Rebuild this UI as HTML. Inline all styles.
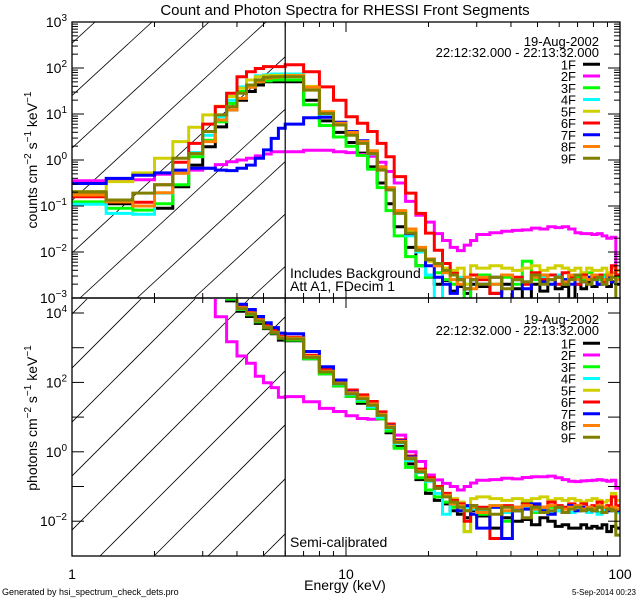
<!DOCTYPE html>
<html><head><meta charset="utf-8"><style>
html,body{margin:0;padding:0;background:#fff;}
svg{display:block;font-family:"Liberation Sans",sans-serif;}
</style></head><body>
<svg id="chart" width="640" height="600" viewBox="0 0 640 600" xmlns="http://www.w3.org/2000/svg">
<rect x="0" y="0" width="640" height="600" fill="#fff"/>
<defs>
<clipPath id="clipTop"><rect x="72" y="22" width="548" height="276"/></clipPath>
<clipPath id="clipBot"><rect x="72" y="299" width="548" height="257"/></clipPath>
<clipPath id="hatchTop"><rect x="72" y="22" width="213" height="276"/></clipPath>
<clipPath id="hatchBot"><rect x="72" y="299" width="213" height="257"/></clipPath>
</defs>
<g id="layer"></g>
</svg>
<script>
const energyEdges = [1,1.333,1.667,2,2.333,2.667,3,3.333,3.667,4,4.333,4.667,5,5.333,5.667,6,7,8,9,10,11,12,13,14,15,16.5,18,19.5,21,22.5,24,25.5,27,28.5,30,33.5,37,40.5,44,47.5,51,54.5,58,61.5,65,68.5,72,75.5,79,82.5,86,89.5,93,96.5,100];
const seriesNames = ["1F","2F","3F","4F","5F","6F","7F","8F","9F"];
const seriesColors = ["#000000","#ff00ff","#00ff00","#00ffff","#d0d000","#ff0000","#0000ff","#ff8000","#808000"];

// log10 counts cm^-2 s^-1 keV^-1 (top panel)
const counts1F = [-0.73,-0.95,-1.0,-1.05,-0.58,-0.11,0.29,0.72,1.09,1.30,1.49,1.63,1.70,1.70,1.70, 1.70,1.30,0.85,0.60,0.38,0.15,-0.15,-0.50,-0.95, -1.45,-1.90,-2.30,-2.55,-2.70,-2.62,-2.85,-2.75,-2.9,-2.7, -2.75,-2.9,-2.7,-2.8,-3.1,-2.7,-2.85,-2.6,-2.8,-2.75,-3.1,-2.7,-2.8,-2.65,-2.75,-2.7,-2.6,-2.75,-2.65,-2.7];
const counts2F = [-0.45,-0.45,-0.43,-0.31,-0.25,-0.22,-0.18,-0.1,-0.04,0.0,0.04,0.09,0.13,0.18,0.18, 0.18,0.21,0.21,0.18,0.16,0.12,0.08,-0.05,-0.25, -0.5,-0.9,-1.2,-1.35,-1.6,-1.75,-1.9,-1.97,-1.85,-1.75, -1.62,-1.58,-1.55,-1.53,-1.52,-1.48,-1.5,-1.45,-1.47,-1.45,-1.5,-1.58,-1.6,-1.6,-1.62,-1.6,-1.65,-1.7,-1.68,-2.4];
const counts3F = [-0.91,-1.05,-1.09,-0.95,-0.54,0.07,0.43,0.83,1.23,1.49,1.63,1.70,1.72,1.74,1.74, 1.74,1.20,0.75,0.50,0.30,0.10,-0.20,-0.60,-1.10, -1.65,-2.10,-2.30,-2.55,-2.45,-2.6,-2.7,-2.6,-3.2,-2.6, -2.5,-2.7,-2.55,-2.7,-2.2,-2.6,-2.55,-2.6,-2.5,-2.7,-2.6,-2.55,-2.6,-2.45,-2.55,-2.6,-2.5,-2.6,-2.45,-2.55];
const counts4F = [-0.96,-1.16,-1.18,-0.72,-0.29,0.16,0.54,0.94,1.30,1.59,1.74,1.83,1.85,1.87,1.87, 1.87,1.55,1.00,0.78,0.56,0.37,0.13,-0.20,-0.65, -1.15,-1.65,-2.00,-2.5,-3.2,-2.4,-2.6,-2.55,-2.7,-2.6, -2.55,-2.7,-2.5,-2.6,-2.65,-2.5,-2.55,-2.7,-2.5,-2.6,-2.55,-2.6,-2.5,-2.55,-2.6,-2.5,-2.55,-2.6,-2.55,-2.6];
const counts5F = [-0.69,-0.47,-0.28,0.04,0.40,0.71,0.98,1.17,1.38,1.56,1.74,1.81,1.83,1.84,1.84, 1.84,1.60,1.05,0.82,0.58,0.38,0.16,-0.18,-0.62, -1.12,-1.55,-1.95,-2.2,-2.3,-2.35,-2.4,-2.35,-2.7,-2.3, -2.35,-2.3,-2.35,-2.4,-2.35,-2.3,-2.4,-2.35,-2.3,-2.35,-2.4,-2.35,-2.45,-2.35,-2.4,-2.4,-2.35,-2.45,-2.35,-2.4];
const counts6F = [-0.80,-0.91,-0.92,-0.54,-0.05,0.36,0.78,1.16,1.45,1.81,1.92,1.99,2.03,2.03,2.03, 2.07,1.92,1.59,1.30,0.94,0.80,0.62,0.36,0.07, -0.36,-0.72,-1.16,-1.59,-1.96,-2.25,-2.46,-2.6,-2.8,-2.5, -2.6,-2.9,-2.5,-2.55,-2.7,-2.45,-2.6,-2.5,-2.7,-2.45,-2.55,-2.7,-2.5,-2.6,-2.55,-2.5,-2.65,-2.55,-2.3,-2.5];
const counts7F = [-0.51,-0.40,-0.33,-0.28,-0.22,-0.18,-0.18,-0.22,-0.23,-0.18,-0.11,0.04,0.22,0.47,0.69, 0.78,0.92,0.93,0.82,0.62,0.42,0.18,-0.15,-0.62, -1.15,-1.60,-1.95,-2.3,-2.55,-2.7,-2.9,-2.6,-2.8,-2.6, -2.7,-2.55,-3.1,-2.6,-2.8,-2.5,-2.65,-2.7,-2.55,-2.6,-2.7,-2.6,-2.65,-2.55,-2.6,-2.7,-2.6,-2.55,-2.65,-2.6];
const counts8F = [-0.76,-0.91,-1.0,-0.71,-0.29,0.14,0.40,0.87,1.09,1.34,1.58,1.70,1.78,1.80,1.81, 1.83,1.58,1.05,0.80,0.60,0.40,0.20,-0.15,-0.60, -1.10,-1.50,-1.90,-2.15,-2.3,-2.45,-2.6,-2.7,-2.55,-2.8, -2.55,-2.7,-2.5,-2.6,-2.65,-2.55,-2.5,-2.6,-2.55,-2.65,-2.5,-2.6,-2.55,-2.6,-2.5,-2.55,-2.6,-2.5,-2.55,-2.6];
const counts9F = [-0.69,-0.87,-0.72,-0.54,0.04,0.14,0.62,0.98,1.16,1.45,1.63,1.74,1.80,1.81,1.81, 1.81,1.52,1.01,0.76,0.54,0.36,0.14,-0.22,-0.65, -1.16,-1.59,-1.96,-2.17,-2.25,-2.4,-2.5,-2.6,-2.8,-2.6, -2.7,-2.55,-2.8,-2.6,-2.65,-2.5,-2.7,-2.6,-2.55,-2.7,-2.6,-2.5,-2.65,-2.7,-2.6,-2.55,-2.7,-2.6,-2.55,-3.2];

// log10 photons cm^-2 s^-1 keV^-1 (bottom panel)
const photons1F = [6,6,6,6,6,6,6,6,4.35, 4.05,3.9,3.7,3.55,3.4,3.22, 3.2,2.68,2.25,1.9,1.6,1.4,1.25,0.95,0.55, 0.15,-0.35,-0.8,-1.2,-1.4,-1.5,-1.7,-1.8,-1.9,-1.7, -1.85,-2.2,-1.9,-2.0,-1.95,-2.1,-1.9,-2.0,-2.15,-2.1,-2.2,-2.2,-2.1,-2.2,-2.15,-2.2,-2.1,-2.3,-2.15,-2.2];
const photons2F = [6,6,6,6,6,6,6,3.89,3.17, 2.76,2.55,2.18,1.99,1.85,1.57, 1.59,1.44,1.25,1.16,1.04,0.96,0.94,0.96,0.77, 0.48,0.0,-0.28,-0.67,-0.81,-0.91,-1.0,-1.1,-1.0,-0.9, -0.82,-0.8,-0.76,-0.78,-0.74,-0.72,-0.72,-0.7,-0.75,-0.8,-0.85,-0.86,-0.84,-0.83,-0.82,-0.8,-0.82,-0.85,-0.82,-1.05];
const photons3F = [6,6,6,6,6,6,6,6,4.4, 4.1,3.95,3.75,3.57,3.42,3.27, 3.22,2.68,2.25,1.9,1.6,1.45,1.25,0.95,0.6, 0.1,-0.45,-0.75,-1.1,-1.3,-1.45,-1.6,-1.7,-2.3,-1.55, -1.8,-1.55,-2.0,-1.7,-1.45,-1.75,-1.7,-1.6,-1.7,-1.75,-1.6,-1.7,-1.65,-1.7,-1.6,-1.75,-1.7,-1.6,-1.65,-1.7];
const photons4F = [6,6,6,6,6,6,6,6,4.45, 4.12,3.98,3.78,3.6,3.45,3.3, 3.25,2.72,2.3,1.95,1.65,1.5,1.3,1.0,0.68, 0.25,-0.25,-0.6,-0.85,-1.2,-1.8,-1.5,-1.55,-1.6,-1.65, -1.7,-1.6,-1.75,-1.65,-1.6,-1.7,-1.65,-1.75,-1.7,-1.6,-1.75,-1.7,-1.7,-1.75,-1.65,-1.8,-1.7,-1.65,-1.7,-1.75];
const photons5F = [6,6,6,6,6,6,6,6,4.45, 4.15,4.0,3.8,3.6,3.45,3.3, 3.28,2.76,2.33,1.98,1.7,1.55,1.37,1.08,0.72, 0.3,-0.2,-0.55,-0.8,-1.0,-1.2,-1.35,-1.45,-2.3,-1.35, -1.3,-1.35,-1.4,-1.35,-1.4,-1.35,-1.3,-1.4,-1.35,-1.4,-1.35,-1.4,-1.45,-1.4,-1.35,-1.4,-1.45,-1.4,-1.2,-1.4];
const photons6F = [6,6,6,6,6,6,6,6,4.5, 4.2,4.05,3.85,3.65,3.5,3.33, 3.3,2.78,2.38,2.05,1.78,1.64,1.45,1.15,0.8, 0.35,-0.12,-0.5,-0.75,-1.0,-1.2,-1.4,-1.5,-2.0,-1.55, -1.6,-2.5,-1.55,-1.6,-1.5,-1.55,-1.6,-1.45,-1.55,-1.6,-1.5,-1.55,-1.5,-1.6,-1.55,-1.45,-1.6,-1.55,-1.3,-1.55];
const photons7F = [6,6,6,6,6,6,6,6,4.55, 4.25,4.1,3.9,3.72,3.58,3.42, 3.4,2.89,2.45,2.07,1.72,1.56,1.38,1.08,0.75, 0.32,-0.15,-0.55,-0.8,-1.05,-1.25,-1.5,-1.7,-1.55,-1.8, -2.2,-1.6,-2.5,-1.7,-1.65,-1.5,-1.7,-1.8,-1.6,-1.75,-1.55,-1.7,-1.6,-1.65,-1.7,-1.6,-1.75,-1.7,-1.65,-1.7];
const photons8F = [6,6,6,6,6,6,6,6,4.45, 4.15,4.0,3.8,3.6,3.45,3.3, 3.28,2.75,2.32,1.98,1.7,1.57,1.38,1.08,0.74, 0.3,-0.18,-0.55,-0.8,-1.05,-1.25,-1.5,-1.55,-1.7,-1.6, -1.75,-1.55,-1.7,-1.6,-1.55,-1.65,-1.6,-1.55,-1.6,-1.65,-1.6,-1.55,-1.65,-1.6,-1.65,-1.55,-1.6,-1.65,-1.6,-1.65];
const photons9F = [6,6,6,6,6,6,6,6,4.45, 4.12,3.97,3.77,3.58,3.43,3.28, 3.25,2.72,2.3,1.96,1.67,1.53,1.34,1.05,0.7, 0.27,-0.2,-0.58,-0.82,-1.05,-1.3,-1.45,-1.6,-1.7,-1.55, -1.65,-1.8,-1.6,-1.7,-1.9,-1.6,-1.75,-1.7,-1.6,-1.75,-1.65,-1.6,-1.7,-1.65,-1.7,-1.6,-1.75,-1.65,-1.7,-2.4];

const countsSeries = [counts1F,counts2F,counts3F,counts4F,counts5F,counts6F,counts7F,counts8F,counts9F];
const photonsSeries = [photons1F,photons2F,photons3F,photons4F,photons5F,photons6F,photons7F,photons8F,photons9F];
const xTickMajors = [1,10,100];
const xTickLabels = ["1","10","100"];
const topDecades = [3,2,1,0,-1,-2,-3];
const botDecades = [4,3,2,1,0,-1,-2];
const botLabeled = [4,2,0,-2];

const NS = "http://www.w3.org/2000/svg";
const layer = document.getElementById("layer");
function xs(E){ return 72 + 274*Math.log10(E); }
function yTop(v){ return 22 + (3 - v)*46; }
function yBot(v){ return 313 + (4 - v)*34.7; }
function mk(tag, attrs, parent){
  const el = document.createElementNS(NS, tag);
  for (const k in attrs) el.setAttribute(k, attrs[k]);
  (parent||layer).appendChild(el);
  return el;
}
function supText(x, y, base, exp, anchor, parent){
  const t = mk("text", {x:x, y:y, "font-size":14, "text-anchor":anchor||"end", fill:"#000"}, parent);
  t.appendChild(document.createTextNode(base));
  const s = document.createElementNS(NS, "tspan");
  s.setAttribute("dy", "-6"); s.setAttribute("font-size", "10");
  s.textContent = exp;
  t.appendChild(s);
  return t;
}

// hatching
function hatch(clip, yB, yT, x0s, slope, name){
  const g = mk("g", {"clip-path":"url(#"+clip+")"});
  
  
  for (const x0 of x0s){
    const h = yB - yT;
    mk("line", {x1:x0, y1:yB, x2:x0 + h/slope, y2:yT, stroke:"#000", "stroke-width":0.8}, g);
  }
}
hatch("hatchTop", 298, 22, [-376,-319,-262,-205,-148,-91,-34,23,80,137,194,251], 0.92, "top-hatch-region");
hatch("hatchBot", 556, 299, [-224,-170,-116,-62,-8,46,100,154,208,263], 1.0, "bottom-hatch-region");

// series
function drawPanel(series, yf, clip, prefix){
  const g = mk("g", {"clip-path":"url(#"+clip+")"});
  
  
  series.forEach((vals, si) => {
    let d = "";
    for (let i = 0; i < vals.length; i++){
      const xa = xs(energyEdges[i]), xb = xs(energyEdges[i+1]);
      const y = Math.max(-50, Math.min(800, yf(vals[i])));
      d += (i===0 ? "M"+xa.toFixed(1)+","+y.toFixed(1) : "V"+y.toFixed(1)) + "H"+xb.toFixed(1);
    }
    const p = mk("path", {d:d, fill:"none", stroke:seriesColors[si], "stroke-width":3, "stroke-linejoin":"miter"}, g);
    
    
  });
}
drawPanel(countsSeries, yTop, "clipTop", "count");
drawPanel(photonsSeries, yBot, "clipBot", "photon");

// boxes
const box1 = mk("rect", {x:72, y:22, width:548, height:276, fill:"none", stroke:"#000", "stroke-width":1.3});


const box2 = mk("rect", {x:72, y:298, width:548, height:258, fill:"none", stroke:"#000", "stroke-width":1.3});


const vline = mk("line", {x1:xs(6), y1:22, x2:xs(6), y2:556, stroke:"#000", "stroke-width":1.2});



// x ticks
const xt = mk("g", {stroke:"#000", "stroke-width":1});


[[22,298],[298,556]].forEach(([yt, yb]) => {
  [1,10].forEach(dec => {
    for (let m = 1; m <= 9; m++){
      const x = xs(dec*m);
      const L = m===1 ? 10 : 5;
      mk("line", {x1:x, y1:yb, x2:x, y2:yb-L}, xt);
      mk("line", {x1:x, y1:yt, x2:x, y2:yt+L}, xt);
    }
  });
});
xTickMajors.forEach((E, i) => {
  const t = mk("text", {x:xs(E), y:579, "font-size":14, "text-anchor":"middle", fill:"#000"});
  t.textContent = xTickLabels[i];
  
  
});

// y ticks top
const yt1 = mk("g", {stroke:"#000", "stroke-width":1});


topDecades.forEach(d => {
  for (let m = 1; m <= 9; m++){
    const v = d + Math.log10(m);
    if (v > 3.001) continue;
    const y = yTop(v);
    const L = m===1 ? 12 : 6;
    mk("line", {x1:72, y1:y, x2:72+L, y2:y}, yt1);
    mk("line", {x1:620, y1:y, x2:620-L, y2:y}, yt1);
  }
  const lab = supText(67, yTop(d)+5, "10", d<0 ? "\u2212"+(-d) : String(d));
  
  
});
// y ticks bottom
const yt2 = mk("g", {stroke:"#000", "stroke-width":1});


botDecades.forEach(d => {
  const y = yBot(d);
  mk("line", {x1:72, y1:y, x2:84, y2:y}, yt2);
  mk("line", {x1:620, y1:y, x2:608, y2:y}, yt2);
});
botLabeled.forEach(d => {
  const lab = supText(67, yBot(d)+5, "10", d<0 ? "\u2212"+(-d) : String(d));
  
  
});

// axis titles
function rotTitle(text, cy, name){
  const t = mk("text", {x:0, y:0, "font-size":14, "text-anchor":"middle", fill:"#000", transform:"translate(37,"+cy+") rotate(-90)"});
  
  
  const parts = text;
  parts.forEach(p => {
    const s = document.createElementNS(NS, "tspan");
    if (p.sup){ s.setAttribute("dy","-6"); s.setAttribute("font-size","10"); }
    else if (p.after){ s.setAttribute("dy","6"); }
    s.textContent = p.t;
    t.appendChild(s);
  });
}
rotTitle([{t:"counts cm"},{t:"\u22122",sup:1},{t:" s",after:1},{t:"\u22121",sup:1},{t:" keV",after:1},{t:"\u22121",sup:1}], 160, "count-y-axis-title");
rotTitle([{t:"photons cm"},{t:"\u22122",sup:1},{t:" s",after:1},{t:"\u22121",sup:1},{t:" keV",after:1},{t:"\u22121",sup:1}], 418, "photon-y-axis-title");

// legends
function legend(yDate, yFirst, prefix){
  const g = mk("g", {});
  
  
  const t1 = mk("text", {x:599, y:yDate, "font-size":13, "text-anchor":"end"}, g);
  t1.textContent = "19-Aug-2002";
  const t2 = mk("text", {x:599, y:yDate+11, "font-size":13, "text-anchor":"end"}, g);
  t2.textContent = "22:12:32.000 - 22:13:32.000";
  seriesNames.forEach((n, i) => {
    const y = yFirst + i*11.75;
    const e = mk("g", {}, g);
    
    
    const tx = mk("text", {x:576, y:y+5, "font-size":13, "text-anchor":"end"}, e);
    tx.textContent = n;
    mk("line", {x1:583, y1:y, x2:600, y2:y, stroke:seriesColors[i], "stroke-width":3}, e);
  });
}
legend(46, 64.3, "count");
legend(324, 343.3, "photon");

function txt(x, y, s, size, anchor, name){
  const t = mk("text", {x:x, y:y, "font-size":size, "text-anchor":anchor, fill:"#000"});
  t.textContent = s;
  
  
}
txt(345, 15, "Count and Photon Spectra for RHESSI Front Segments", 15, "middle", "chart-title");
txt(290, 278, "Includes Background", 14, "start", "background-note");
txt(290, 291, "Att A1, FDecim 1", 14, "start", "attenuator-note");
txt(290, 547, "Semi-calibrated", 14, "start", "calibration-note");
txt(345, 590, "Energy (keV)", 14, "middle", "x-axis-title");
txt(2, 595, "Generated by hsi_spectrum_check_dets.pro", 9, "start", "generator-footer");
txt(636, 595, "5-Sep-2014 00:23", 8, "end", "timestamp-footer");
</script>
</body></html>
